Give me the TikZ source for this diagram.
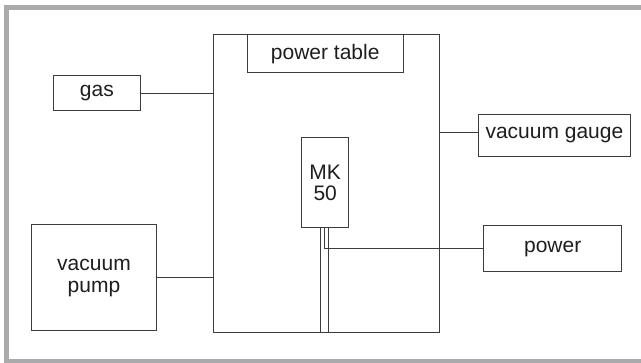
\documentclass[tikz,border=0pt]{standalone}
\usepackage{fontspec}
\setmainfont{Liberation Sans}
\usepackage{xcolor}
\usepackage{tikz}
\usetikzlibrary{positioning, calc}
\definecolor{framegray}{RGB}{170, 170, 172}
\definecolor{linegray}{RGB}{60, 60, 60}
\definecolor{textgray}{RGB}{30, 30, 30}

\begin{document}
\begin{tikzpicture}[x=1pt, y=-1pt,
    unit/.style={draw=linegray, line width=1pt, rectangle, inner sep=0pt, align=center,
        text=textgray, font=\fontsize{21}{22}\selectfont},
    wire/.style={draw=linegray, line width=0.9pt}]
    \useasboundingbox (0,0) rectangle (641,363);
    % outer frame, open on the right
    \draw[framegray, line width=5pt] (641,7.5) -- (6.7,7.5) -- (6.7,361.3) -- (641,361.3);
    % chamber and its parts
    \node[unit, minimum width=226pt, minimum height=298.4pt] (chamber) at (326.5,183.5) {};
    \node[unit, minimum width=156.5pt, minimum height=38.7pt] (table) at (325.25,53.65) {power table};
    \node[unit, minimum width=47pt, minimum height=89.6pt] (mk) at (325.2,182.5) {MK\\[-1pt]50};
    % units round the chamber
    \node[unit, minimum width=86.6pt, minimum height=35.3pt] (gas) at (96.9,93.35) {gas};
    \node[unit, minimum width=124.3pt, minimum height=106.3pt] (pump) at (94,277.85) {vacuum\\pump};
    \node[unit, minimum width=152.8pt, minimum height=41.6pt] (gauge) at (554.4,135.5) {vacuum gauge};
    \node[unit, minimum width=138.2pt, minimum height=46.3pt] (power) at (552.7,248.6) {power};
    % connections
    \draw[wire] (gas.east) -- (gas.east -| chamber.west);
    \draw[wire] (pump.east) -- (pump.east -| chamber.west);
    \draw[wire] ($(gauge.west)+(0,-3.5)$) -- ($(gauge.west -| chamber.east)+(0,-3.5)$);
    \draw[wire] ([xshift=-5pt]mk.south) -- ([xshift=-5pt]mk.south |- chamber.south);
    \draw[wire] ([xshift=3.4pt]mk.south) -- ([xshift=3.4pt]mk.south |- chamber.south);
    \draw[wire] ([xshift=-0.8pt]mk.south) |- (power.west);
\end{tikzpicture}
\end{document}
